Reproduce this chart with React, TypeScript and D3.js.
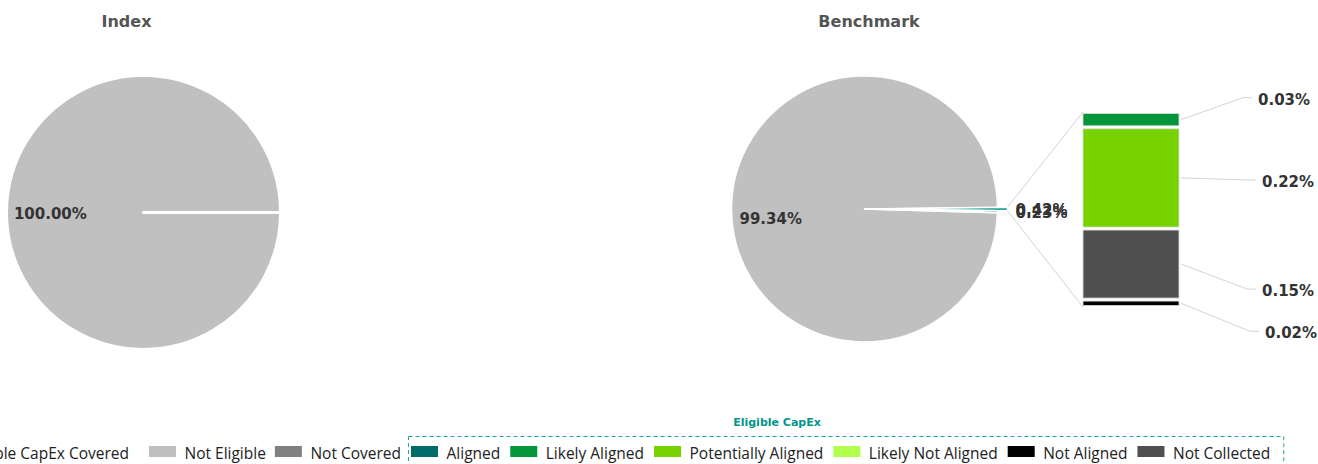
import { useEffect, useRef } from "react"
import * as d3 from "d3"

// pie categories (outer level)
const pieCategories = ["Not Eligible", "Eligible CapEx Covered", "Not Covered"]
const indexValues = [100, 0, 0]
const benchmarkValues = [99.344, 0.422, 0.234]

// eligible capex breakdown (benchmark drilldown)
const eligibleCategories = [
  "Aligned",
  "Likely Aligned",
  "Potentially Aligned",
  "Likely Not Aligned",
  "Not Aligned",
  "Not Collected",
]
const benchmarkEligibleValues = [0, 0.033, 0.218, 0, 0.016, 0.153]

// stacking order in the bar, top to bottom
const barOrder = [
  "Aligned",
  "Likely Aligned",
  "Potentially Aligned",
  "Likely Not Aligned",
  "Not Collected",
  "Not Aligned",
]

const pieColors: Record<string, string> = {
  "Not Eligible": "#c0c0c0",
  "Eligible CapEx Covered": "#1ba397",
  "Not Covered": "#808080",
}

const eligibleColors: Record<string, string> = {
  Aligned: "#006d6a",
  "Likely Aligned": "#009639",
  "Potentially Aligned": "#78d200",
  "Likely Not Aligned": "#b3ff4d",
  "Not Aligned": "#000000",
  "Not Collected": "#505050",
}

// label placement for bar segment labels (layout only)
const barLabelLayout: Record<string, { dy: number; dx: number }> = {
  "Likely Aligned": { dy: -22, dx: 79 },
  "Potentially Aligned": { dy: 2, dx: 83 },
  "Not Collected": { dy: 25, dx: 83 },
  "Not Aligned": { dy: 28, dx: 86 },
}

const W = 1318
const H = 464
const boldFont = "'DejaVu Sans', Verdana, sans-serif"
const legendFont = "'Open Sans', 'Noto Sans', sans-serif"

export default function App() {
  const svgRef = useRef<SVGSVGElement>(null)

  useEffect(() => {
    if (!svgRef.current) return
    const svg = d3.select(svgRef.current)
    svg.selectAll("*").remove()

    const fmt = (v: number) => v.toFixed(2) + "%"

    // titles
    const titles = [
      { text: "Index", x: 126.5 },
      { text: "Benchmark", x: 869 },
    ]
    svg.selectAll("text.title")
      .data(titles)
      .join("text")
      .attr("class", "title")
      .attr("x", d => d.x)
      .attr("y", 27)
      .attr("text-anchor", "middle")
      .attr("font-family", boldFont)
      .attr("font-weight", "bold")
      .attr("font-size", "16px")
      .attr("fill", "#555555")
      .text(d => d.text)

    const pieData = (values: number[]) =>
      pieCategories.map((c, i) => ({ name: c, value: values[i] })).filter(d => d.value > 0)

    // ---------- Index pie ----------
    {
      const cx = 143.5, cy = 212.5, r = 137
      const g = svg.append("g").attr("transform", `translate(${cx},${cy})`)
      const start = Math.PI / 2
      const arcs = d3.pie<{ name: string; value: number }>()
        .sort(null)
        .value(d => d.value)
        .startAngle(start)
        .endAngle(start + Math.PI * 2 - 0.0005)(pieData(indexValues))
      const arc = d3.arc<d3.PieArcDatum<{ name: string; value: number }>>()
        .innerRadius(0).outerRadius(r)
      g.selectAll("path")
        .data(arcs)
        .join("path")
        .attr("d", arc)
        .attr("fill", d => pieColors[d.data.name])
        .attr("stroke", "#ffffff")
        .attr("stroke-width", 3)
        .attr("stroke-linejoin", "round")
      const labelArc = d3.arc<d3.PieArcDatum<{ name: string; value: number }>>()
        .innerRadius(r * 0.68).outerRadius(r * 0.68)
      g.selectAll("text")
        .data(arcs)
        .join("text")
        .attr("x", d => labelArc.centroid(d)[0])
        .attr("y", d => labelArc.centroid(d)[1] + 6.5)
        .attr("text-anchor", "middle")
        .attr("font-family", boldFont)
        .attr("font-weight", "bold")
        .attr("font-size", "15px")
        .attr("fill", "#333333")
        .text(d => fmt(d.data.value))
    }

    // ---------- Benchmark pie + bar ----------
    {
      const cx = 864.5, cy = 209, r = 133
      const total = d3.sum(benchmarkValues)
      const covered = benchmarkValues[0] + benchmarkValues[1] / 2
      const start = Math.PI / 2 - (Math.PI * 2 * covered) / total
      const arcs = d3.pie<{ name: string; value: number }>()
        .sort(null)
        .value(d => d.value)
        .startAngle(start)
        .endAngle(start + Math.PI * 2)(pieData(benchmarkValues))
      const arc = d3.arc<d3.PieArcDatum<{ name: string; value: number }>>()
        .innerRadius(0).outerRadius(r)
      const offset = (d: d3.PieArcDatum<{ name: string; value: number }>) => {
        if (d.data.name !== "Eligible CapEx Covered") return [0, 0]
        const m = (d.startAngle + d.endAngle) / 2
        return [Math.sin(m) * 10, -Math.cos(m) * 10]
      }
      const g = svg.append("g").attr("transform", `translate(${cx},${cy})`)
      g.selectAll("path")
        .data(arcs)
        .join("path")
        .attr("d", arc)
        .attr("transform", d => `translate(${offset(d)[0]},${offset(d)[1]})`)
        .attr("fill", d => pieColors[d.data.name])
        .attr("stroke", "#ffffff")
        .attr("stroke-width", 1.5)
        .attr("stroke-linejoin", "round")

      // drilldown bar
      const barX0 = 1083, barX1 = 1179, barTop = 112, barBottom = 307
      const segs = barOrder
        .map(name => ({ name, value: benchmarkEligibleValues[eligibleCategories.indexOf(name)] }))
      const barTotal = d3.sum(segs, d => d.value)
      const y = d3.scaleLinear().domain([0, barTotal]).range([barTop, barBottom])
      let acc = 0
      const stacked = segs.map(s => {
        const y0 = y(acc)
        acc += s.value
        return { ...s, y0, y1: y(acc) }
      }).filter(s => s.value > 0)

      // pie-to-bar connectors
      const cov = arcs.find(a => a.data.name === "Eligible CapEx Covered")!
      const [ox, oy] = offset(cov)
      const pt = (a: number) => [cx + ox + Math.sin(a) * r, cy + oy - Math.cos(a) * r]
      const topPt = pt(cov.startAngle)
      const botPt = pt(cov.endAngle)
      svg.append("line")
        .attr("x1", topPt[0]).attr("y1", topPt[1])
        .attr("x2", barX0).attr("y2", barTop)
        .attr("stroke", "#d4d4d4").attr("stroke-width", 1)
      svg.append("line")
        .attr("x1", botPt[0]).attr("y1", botPt[1])
        .attr("x2", barX0).attr("y2", barBottom)
        .attr("stroke", "#d4d4d4").attr("stroke-width", 1)

      // small slice labels (drawn so the covered one sits on top)
      const outArc = d3.arc<d3.PieArcDatum<{ name: string; value: number }>>()
        .innerRadius(r + 18).outerRadius(r + 18)
      g.selectAll("text.small")
        .data(arcs.filter(a => a.data.name !== "Not Eligible").reverse())
        .join("text")
        .attr("class", "small")
        .attr("x", d => outArc.centroid(d)[0])
        .attr("y", d => outArc.centroid(d)[1] + 6)
        .attr("text-anchor", "start")
        .attr("font-family", boldFont)
        .attr("font-weight", "bold")
        .attr("font-size", "15px")
        .attr("fill", "#333333")
        .text(d => fmt(d.data.value))

      // main slice label
      const labelArc = d3.arc<d3.PieArcDatum<{ name: string; value: number }>>()
        .innerRadius(r * 0.705).outerRadius(r * 0.705)
      g.selectAll("text.main")
        .data(arcs.filter(a => a.data.name === "Not Eligible"))
        .join("text")
        .attr("class", "main")
        .attr("x", d => labelArc.centroid(d)[0])
        .attr("y", d => labelArc.centroid(d)[1] + 16)
        .attr("text-anchor", "middle")
        .attr("font-family", boldFont)
        .attr("font-weight", "bold")
        .attr("font-size", "15px")
        .attr("fill", "#333333")
        .text(d => fmt(d.data.value))

      svg.selectAll("rect.seg")
        .data(stacked)
        .join("rect")
        .attr("class", "seg")
        .attr("x", barX0)
        .attr("width", barX1 - barX0)
        .attr("y", d => d.y0 + 1.5)
        .attr("height", d => Math.max(1, d.y1 - d.y0 - 3))
        .attr("fill", d => eligibleColors[d.name])
        .attr("stroke", "#dcdcdc")
        .attr("stroke-width", 0.8)

      // bar labels with connectors
      const lab = svg.selectAll("g.blab")
        .data(stacked)
        .join("g")
        .attr("class", "blab")
      lab.append("polyline")
        .attr("points", d => {
          const L = barLabelLayout[d.name] || { dy: 0, dx: 80 }
          const mid = (d.y0 + d.y1) / 2
          const ly = mid + L.dy
          return `${barX1 + 2},${mid} ${barX1 + L.dx - 15},${ly} ${barX1 + L.dx - 6},${ly}`
        })
        .attr("fill", "none")
        .attr("stroke", "#d4d4d4")
        .attr("stroke-width", 1)
      lab.append("text")
        .attr("x", d => barX1 + (barLabelLayout[d.name] || { dx: 80 }).dx)
        .attr("y", d => (d.y0 + d.y1) / 2 + (barLabelLayout[d.name] || { dy: 0 }).dy + 7)
        .attr("font-family", boldFont)
        .attr("font-weight", "bold")
        .attr("font-size", "15px")
        .attr("fill", "#333333")
        .text(d => fmt(d.value))
    }

    // ---------- Legend ----------
    const iconW = 27, iconH = 11, iconY = 446, textY = 459
    const iconGap = 8.5, itemGap = 10, fontSize = "15.5px"
    const boxLeft = 408, boxTop = 436
    const legend = svg.append("g")

    const measure = (t: string) => {
      const el = legend.append("text")
        .attr("font-family", legendFont)
        .attr("font-size", fontSize)
        .text(t)
      const w = (el.node() as SVGTextElement).getComputedTextLength()
      el.remove()
      return w
    }

    const drawItem = (x: number, name: string, color: string) => {
      legend.append("rect")
        .attr("x", x).attr("y", iconY)
        .attr("width", iconW).attr("height", iconH)
        .attr("fill", color)
      legend.append("text")
        .attr("x", x + iconW + iconGap)
        .attr("y", textY)
        .attr("font-family", legendFont)
        .attr("font-size", fontSize)
        .attr("fill", "#222222")
        .text(name)
    }

    // outer items flow leftwards from the box
    let xr = boxLeft - 7
    const outerOrder = ["Not Covered", "Not Eligible", "Eligible CapEx Covered"]
    outerOrder.forEach((name, i) => {
      const w = measure(name)
      const x = xr - w - iconGap - iconW
      drawItem(x, name, pieColors[name])
      xr = x - (i === 1 ? 20 : 9)
    })

    // inner items flow rightwards inside the box
    let xl = boxLeft + 3
    eligibleCategories.forEach(name => {
      const w = measure(name)
      drawItem(xl, name, eligibleColors[name])
      xl += iconW + iconGap + w + itemGap
    })
    const boxRight = xl - itemGap + 13

    legend.append("rect")
      .attr("x", boxLeft + 0.5)
      .attr("y", boxTop + 0.5)
      .attr("width", boxRight - boxLeft)
      .attr("height", 40)
      .attr("fill", "none")
      .attr("stroke", "#26a69a")
      .attr("stroke-width", 1)
      .attr("stroke-dasharray", "4,3")

    legend.append("text")
      .attr("x", 777)
      .attr("y", 426)
      .attr("text-anchor", "middle")
      .attr("font-family", boldFont)
      .attr("font-weight", "bold")
      .attr("font-size", "11px")
      .attr("fill", "#00968a")
      .text("Eligible CapEx")
  }, [])

  return (
    <div style={{ position: "absolute", left: 0, top: 0, width: W, height: H, overflow: "hidden", background: "#fff" }}>
      <svg ref={svgRef} width={W} height={H} style={{ display: "block" }} />
    </div>
  )
}
